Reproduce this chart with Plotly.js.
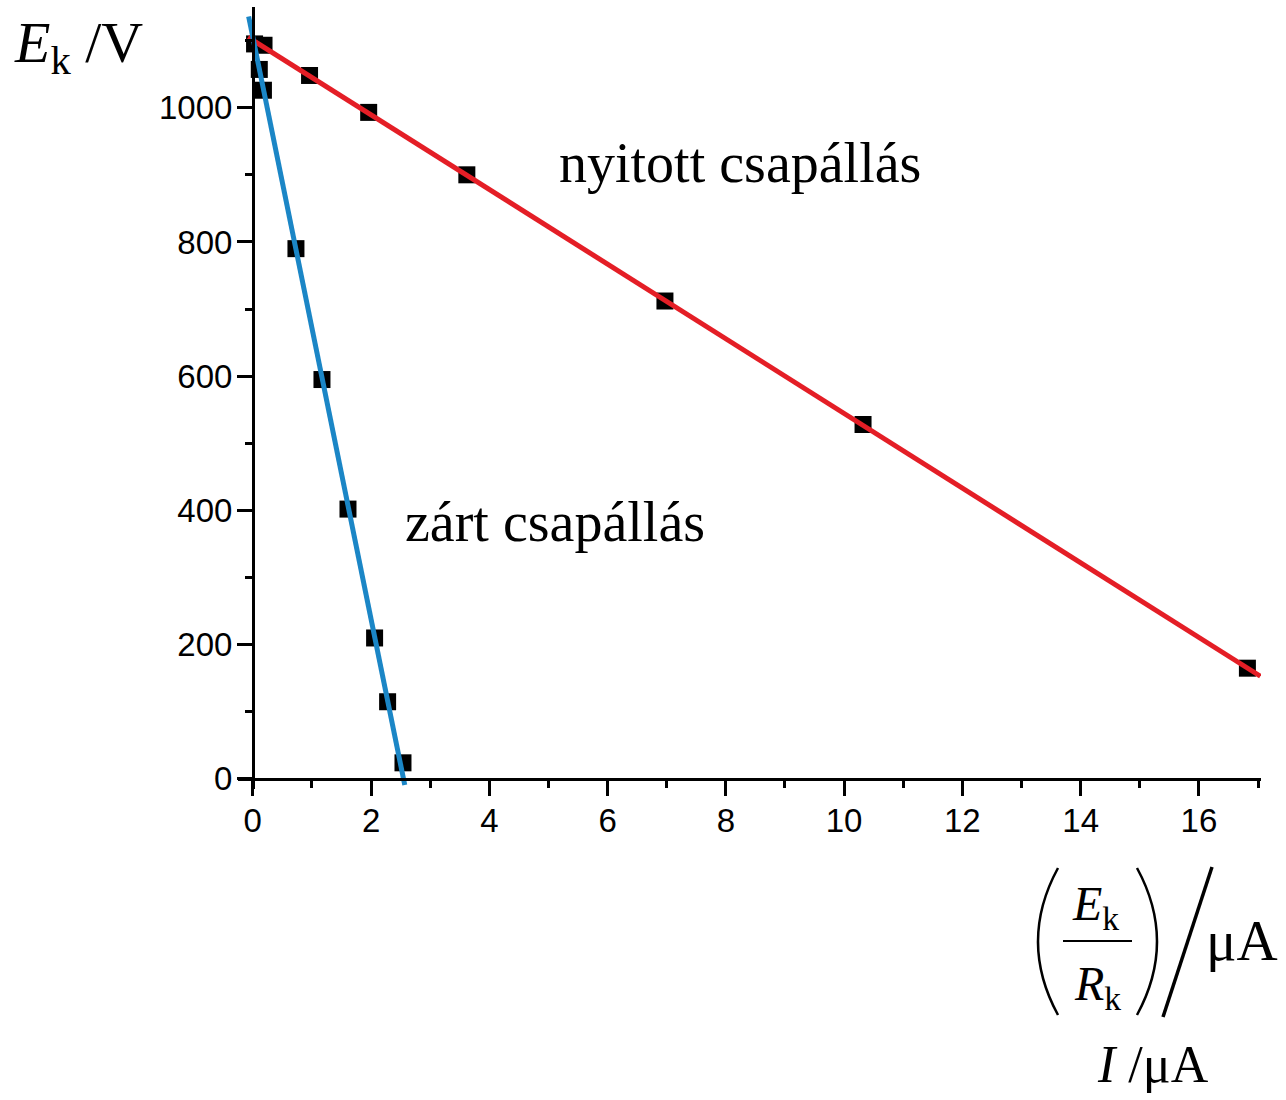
<!DOCTYPE html>
<html>
<head>
<meta charset="utf-8">
<script src="https://cdn.plot.ly/plotly-3.0.1.min.js"></script>
<style>html,body{margin:0;padding:0;background:#fff;}#chart{width:1286px;height:1100px;}</style>
</head>
<body>
<div id="chart"></div>
<script>
// ---- data ----
const openX = [0.19, 0.96, 1.96, 3.62, 6.97, 10.32, 16.82];
const openY = [1093, 1048, 993, 900, 712, 528, 165];
const closedX = [0.03, 0.11, 0.18, 0.73, 1.17, 1.61, 2.06, 2.28, 2.54];
const closedY = [1095, 1057, 1026, 790, 595, 402, 210, 115, 24];
const openFitX = [-0.08, 17.04];
const openFitY = [1105, 153];
const closedFitX = [-0.07, 2.57];
const closedFitY = [1136, -9];
const openLabel = "nyitott csapállás";
const closedLabel = "zárt csapállás";
const xTickVals = [0, 2, 4, 6, 8, 10, 12, 14, 16];
const yTickVals = [0, 200, 400, 600, 800, 1000];

// ---- layout geometry ----
const W = 1286, H = 1100, L = 238, R = 25, T = 7, B = 311;
const pw = W - L - R, ph = H - T - B;
const fx = p => (p - L) / pw;
const fy = p => (H - B - p) / ph;

const serif = "Liberation Serif, Times New Roman, serif";
const sans = "Liberation Sans, Arial, sans-serif";

const traces = [
  {x: openX, y: openY, mode: "markers", type: "scatter",
   marker: {symbol: "square", size: 17, color: "#000"}, showlegend: false},
  {x: closedX, y: closedY, mode: "markers", type: "scatter",
   marker: {symbol: "square", size: 17, color: "#000"}, showlegend: false},
  {x: openFitX, y: openFitY, mode: "lines", type: "scatter",
   line: {color: "#e41e26", width: 5}, showlegend: false},
  {x: closedFitX, y: closedFitY, mode: "lines", type: "scatter",
   line: {color: "#1b86c6", width: 5}, showlegend: false}
];

function ann(text, xpx, ypx, size) {
  return {text: text, xref: "paper", yref: "paper", x: fx(xpx), y: fy(ypx),
    xanchor: "center", yanchor: "middle", showarrow: false,
    font: {family: serif, size: size, color: "#000"}};
}

const axisCommon = {
  showline: true, linecolor: "#000", linewidth: 3,
  showgrid: false, zeroline: false,
  ticks: "outside", ticklen: 15, tickwidth: 3, tickcolor: "#000",
  tickfont: {family: sans, size: 33, color: "#000"},
  anchor: "free"
};

const layout = {
  width: W, height: H,
  margin: {l: L, r: R, t: T, b: B, pad: 0},
  paper_bgcolor: "#fff", plot_bgcolor: "#fff",
  xaxis: Object.assign({}, axisCommon, {
    range: [-0.25, 17.05], tickvals: xTickVals, ticktext: xTickVals.map(String),
    position: fy(779), ticklabelstandoff: -4,
    minor: {dtick: 1, ticklen: 7, tickwidth: 3, tickcolor: "#000", ticks: "outside"}
  }),
  yaxis: Object.assign({}, axisCommon, {
    range: [-15, 1150], tickvals: yTickVals, ticktext: yTickVals.map(String),
    position: fx(253), ticklabelstandoff: -2,
    minor: {dtick: 100, ticklen: 7, tickwidth: 3, tickcolor: "#000", ticks: "outside"}
  }),
  annotations: [
    ann(openLabel, 740, 163, 56),
    ann(closedLabel, 555, 522, 56),
    ann("<i>E</i><sub>k</sub> /V", 78, 46, 58),
    ann("<i>E</i><sub>k</sub>", 1095, 907, 48),
    ann("<i>R</i><sub>k</sub>", 1097, 987, 48),
    ann("μA", 1242, 940, 57),
    ann("<i>I</i> /μA", 1153, 1064, 52)
  ],
  shapes: [
    {type: "path", xref: "paper", yref: "paper",
     path: `M ${fx(1058)},${fy(868)} Q ${fx(1018)},${fy(941.5)} ${fx(1058)},${fy(1015)}`,
     line: {color: "#000", width: 2.5}},
    {type: "path", xref: "paper", yref: "paper",
     path: `M ${fx(1137)},${fy(868)} Q ${fx(1177)},${fy(941.5)} ${fx(1137)},${fy(1015)}`,
     line: {color: "#000", width: 2.5}},
    {type: "line", xref: "paper", yref: "paper",
     x0: fx(1063), y0: fy(941), x1: fx(1132), y1: fy(941),
     line: {color: "#000", width: 2}},
    {type: "line", xref: "paper", yref: "paper",
     x0: fx(1212), y0: fy(867), x1: fx(1163), y1: fy(1017),
     line: {color: "#000", width: 3.5}}
  ]
};

Plotly.newPlot("chart", traces, layout, {displayModeBar: false, staticPlot: true});
</script>
</body>
</html>
